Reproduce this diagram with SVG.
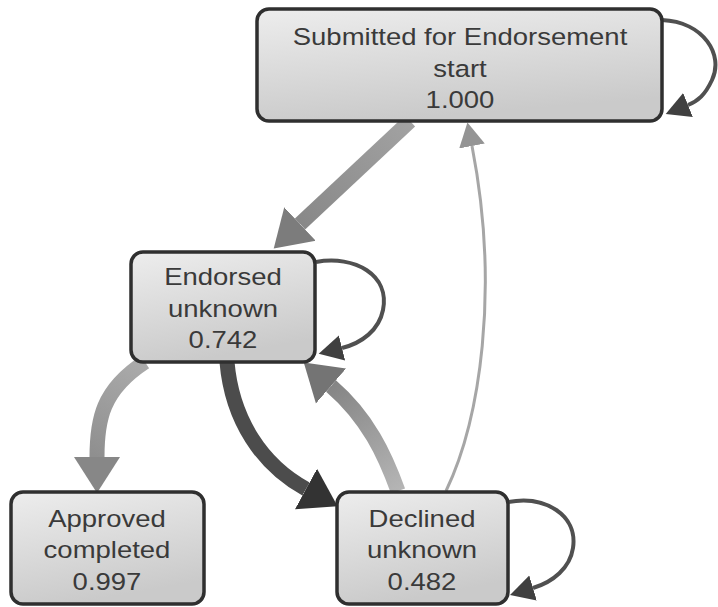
<svg xmlns="http://www.w3.org/2000/svg" width="718" height="607" viewBox="0 0 718 607">
  <style>
    .box { stroke: #2f2f2f; stroke-width: 3.5; }
    .label { font-family: "Liberation Sans", Arial, sans-serif; font-size: 23.5px; fill: #3a3a3a; text-anchor: middle; }
    .edge { fill: none; stroke-linecap: butt; }
    .heavy { stroke-width: 15; }
    .loop { stroke: #505050; stroke-width: 4; }
    .thin { stroke: #a6a6a6; stroke-width: 3; }
  </style>
  <defs>
    <linearGradient id="nodeFill" x1="0" y1="0" x2="0.3" y2="1">
      <stop offset="0" stop-color="#ededed"/>
      <stop offset="1" stop-color="#cacaca"/>
    </linearGradient>
    <linearGradient id="backFlow" gradientUnits="userSpaceOnUse" x1="398" y1="491" x2="331" y2="386">
      <stop offset="0" stop-color="#b5b5b5"/>
      <stop offset="1" stop-color="#858585"/>
    </linearGradient>
    <linearGradient id="downFlow" gradientUnits="userSpaceOnUse" x1="410" y1="121" x2="300" y2="224">
      <stop offset="0" stop-color="#a2a2a2"/>
      <stop offset="1" stop-color="#888888"/>
    </linearGradient>
    <linearGradient id="leftFlow" gradientUnits="userSpaceOnUse" x1="145" y1="362" x2="97" y2="457">
      <stop offset="0" stop-color="#ababab"/>
      <stop offset="1" stop-color="#8f8f8f"/>
    </linearGradient>
    <marker id="bigLight" markerUnits="userSpaceOnUse" viewBox="0 0 40 50" refX="0" refY="25" markerWidth="40" markerHeight="50" orient="auto">
      <path d="M0,2 L36,25 L0,48 z" fill="#7c7c7c"/>
    </marker>
    <marker id="bigMid" markerUnits="userSpaceOnUse" viewBox="0 0 40 50" refX="0" refY="25" markerWidth="40" markerHeight="50" orient="auto">
      <path d="M0,2 L36,25 L0,48 z" fill="#878787"/>
    </marker>
    <marker id="bigBack" markerUnits="userSpaceOnUse" viewBox="0 0 40 50" refX="0" refY="25" markerWidth="40" markerHeight="50" orient="auto">
      <path d="M0,2 L36,25 L0,48 z" fill="#747474"/>
    </marker>
    <marker id="bigDark" markerUnits="userSpaceOnUse" viewBox="0 0 40 50" refX="0" refY="25" markerWidth="40" markerHeight="50" orient="auto">
      <path d="M0,2 L36,25 L0,48 z" fill="#333333"/>
    </marker>
    <marker id="thinHead" markerUnits="userSpaceOnUse" viewBox="0 0 26 30" refX="0" refY="15" markerWidth="26" markerHeight="30" orient="auto">
      <path d="M0,2 L24,15 L0,28 z" fill="#949494"/>
    </marker>
    <marker id="loopHead" markerUnits="userSpaceOnUse" viewBox="0 0 26 30" refX="0" refY="15" markerWidth="26" markerHeight="30" orient="auto">
      <path d="M0,2 L24,15 L0,28 z" fill="#404040"/>
    </marker>
  </defs>

  <rect width="718" height="607" fill="#ffffff"/>

  <g id="connectors">
    <!-- Submitted for Endorsement -> Endorsed -->
    <path class="edge heavy" stroke="url(#downFlow)" d="M410,121 L300,224" marker-end="url(#bigLight)"/>
    <!-- Endorsed -> Approved -->
    <path class="edge heavy" stroke="url(#leftFlow)" d="M145,362 C102,390 97,420 97,457" marker-end="url(#bigMid)"/>
    <!-- Endorsed -> Declined -->
    <path class="edge heavy" stroke="#4c4c4c" d="M227,362 C232,420 262,465 306,489" marker-end="url(#bigDark)"/>
    <!-- Declined -> Endorsed -->
    <path class="edge heavy" stroke="url(#backFlow)" d="M398,491 C385,455 368,418 331,386" marker-end="url(#bigBack)"/>
    <!-- Declined -> Submitted for Endorsement -->
    <path class="edge thin" d="M446,491 C480,420 500,290 472,146" marker-end="url(#thinHead)"/>
    <!-- self loops -->
    <path class="edge loop" d="M662,20 C704,22 724,55 712,80 C705,95 698,101 688,105" marker-end="url(#loopHead)"/>
    <path class="edge loop" d="M316,262 C355,255 390,275 383,310 C379,330 362,343 342,348" marker-end="url(#loopHead)"/>
    <path class="edge loop" d="M508,502 C545,495 578,515 573,548 C570,568 553,582 533,588" marker-end="url(#loopHead)"/>
  </g>

  <g id="node-submitted">
    <rect class="box" x="257" y="9" width="405" height="112" rx="12" fill="url(#nodeFill)"/>
    <g class="label" transform="translate(460,0) scale(1.17,1)">
      <text x="0" y="45">Submitted for Endorsement</text>
      <text x="0" y="77">start</text>
      <text x="0" y="108">1.000</text>
    </g>
  </g>

  <g id="node-endorsed">
    <rect class="box" x="131" y="252" width="184" height="110" rx="12" fill="url(#nodeFill)"/>
    <g class="label" transform="translate(223,0) scale(1.17,1)">
      <text x="0" y="285">Endorsed</text>
      <text x="0" y="317">unknown</text>
      <text x="0" y="348">0.742</text>
    </g>
  </g>

  <g id="node-approved">
    <rect class="box" x="11" y="492" width="193" height="112" rx="12" fill="url(#nodeFill)"/>
    <g class="label" transform="translate(107,0) scale(1.17,1)">
      <text x="0" y="527">Approved</text>
      <text x="0" y="558">completed</text>
      <text x="0" y="590">0.997</text>
    </g>
  </g>

  <g id="node-declined">
    <rect class="box" x="337" y="492" width="171" height="112" rx="12" fill="url(#nodeFill)"/>
    <g class="label" transform="translate(422,0) scale(1.17,1)">
      <text x="0" y="527">Declined</text>
      <text x="0" y="558">unknown</text>
      <text x="0" y="590">0.482</text>
    </g>
  </g>
</svg>
